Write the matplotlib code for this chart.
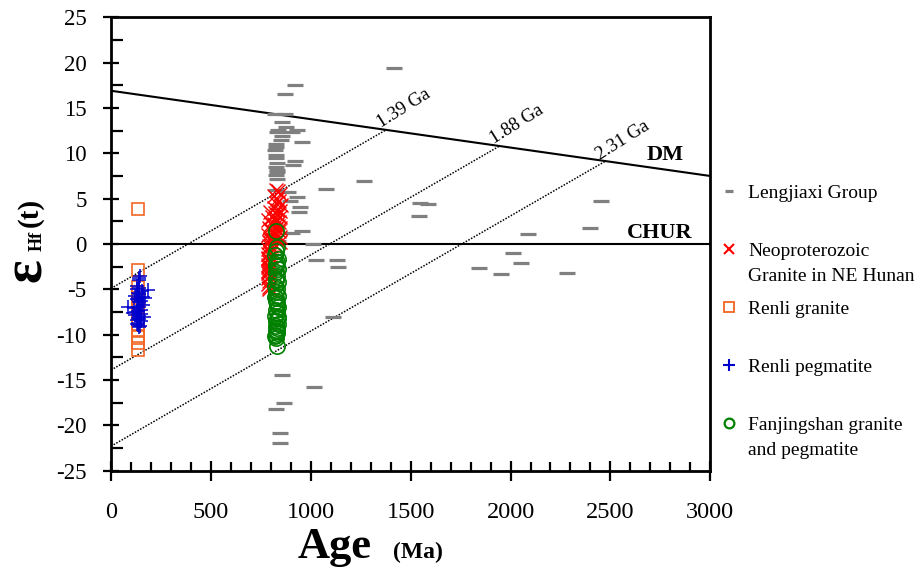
import numpy as np
import matplotlib
matplotlib.use("Agg")
import matplotlib.pyplot as plt
from matplotlib.lines import Line2D

plt.rcParams['font.family'] = 'Liberation Serif'
plt.rcParams['axes.unicode_minus'] = False

# reference lines
dm_age = [0, 3000]
dm_ehf = [16.9, 7.5]
model_intercepts = [-4.9, -13.9, -22.3]     # eHf at 0 Ma for crustal evolution lines
model_slope = 0.0127                        # eHf per Ma
model_labels = ['1.39 Ga', '1.88 Ga', '2.31 Ga']

# Lengjiaxi Group
gray_age = [1417, 921, 871, 821, 871, 855, 875, 838, 930, 829, 904, 855, 850, 955,
            826, 826, 820, 826, 826, 921, 830, 913, 826, 830, 830, 826, 830, 1075,
            826, 886, 896, 930, 946, 940, 955, 905, 1012, 836, 1025, 1129, 1137, 1111,
            855, 1018, 868, 825, 846, 846, 1264, 1547, 1587, 1544, 2452, 2399, 2088,
            2013, 1843, 1953, 2052, 2282]
gray_ehf = [19.4, 17.5, 16.5, 14.3, 14.3, 13.4, 12.9, 12.6, 12.6, 12.3, 12.3, 11.9, 11.5, 11.2,
            11.0, 10.7, 10.4, 9.8, 9.5, 9.2, 8.9, 8.7, 8.5, 8.2, 7.9, 7.6, 7.2, 6.1,
            5.9, 5.7, 4.7, 5.2, 4.1, 3.5, 1.4, 1.2, 0.0, 0.3, -1.8, -1.8, -2.5, -8.1,
            -14.4, -15.8, -17.5, -18.2, -20.8, -22.0, 6.9, 4.5, 4.4, 3.1, 4.7, 1.8, 1.1,
            -1.0, -2.7, -3.3, -2.1, -3.2]

# Neoproterozoic granite in NE Hunan
red_age = [825, 835, 845, 818, 832, 840, 826, 850,
           815, 830, 845, 822, 838, 846, 816, 828, 842, 818, 835, 846, 825, 840, 816,
           832, 845, 820, 836, 844, 816, 828,
           795, 805, 788, 800, 792, 808, 785, 798, 790, 803, 786, 794, 784, 800, 788,
           792, 785, 797, 789, 786, 793, 787, 798, 790, 788, 786, 791, 796, 789, 795,
           787, 784, 792]
red_ehf = [6.0, 5.8, 5.5, 5.3, 5.0, 4.7, 4.5, 4.3,
           4.0, 3.8, 3.6, 3.4, 3.2, 3.0, 2.8, 2.6, 2.4, 2.2, 2.0, 1.8, 1.6, 1.4, 1.2,
           1.0, 0.8, 0.6, 0.4, 0.2, 0.0, -0.2,
           3.5, 3.0, 2.6, 2.2, 1.8, 1.4, 1.0, 0.6, 0.2, -0.2, -0.5, -0.8, -1.1, -1.4, -1.7,
           -2.0, -2.3, -2.6, -2.9, -3.2, -3.5, -3.8, -1.0, -4.1, -4.4, -2.5, -4.7, 0.5,
           -5.0, 1.5, -3.0, -1.5, -0.2]

# Renli granite
orange_age = [137, 137, 135, 133, 136, 134, 137, 133, 136, 135, 137, 137, 137, 137]
orange_ehf = [3.9, -2.9, -4.7, -5.3, -5.9, -6.5, -7.1, -7.7, -8.3, -8.9, -9.5, -10.2, -10.9, -11.7]

# Renli pegmatite
blue_age = [145, 140, 187, 132, 138, 128, 155, 135, 142, 120, 160, 136, 130, 150, 139,
            85, 158, 134, 141, 115, 152, 137, 125, 148, 122, 139, 163, 133, 140, 128,
            150, 136, 131, 145, 138, 135, 170, 110, 140, 137]
blue_ehf = [-3.5, -4.0, -5.1, -4.6, -4.8, -5.0, -5.2, -5.4, -5.5, -5.7, -5.8, -6.0, -6.1, -6.3, -6.4,
            -6.9, -6.7, -6.9, -7.0, -7.1, -7.3, -7.4, -7.5, -7.7, -7.8, -7.9, -8.0, -8.2, -8.3, -8.4,
            -8.5, -8.7, -8.8, -9.0, -9.2, -6.2, -6.0, -7.6, -3.8, -8.9]

# Fanjingshan granite and pegmatite
green_age = [826, 832, 828, 822, 835, 830, 826, 838, 824, 832, 828, 836, 822, 830, 826, 834,
             828, 824, 832, 838, 826, 830, 822, 834, 828, 836, 824, 830, 826, 832, 828, 822,
             834, 830, 826, 828, 820, 832, 826, 830]
green_ehf = [1.4, -0.3, -0.8, -1.2, -1.6, -2.0, -2.4, -2.8, -3.1, -3.5, -3.9, -4.2, -4.6, -5.0,
             -5.3, -5.7, -6.0, -6.3, -6.7, -7.0, -7.3, -7.6, -7.9, -8.2, -8.5, -8.8, -9.0, -9.3,
             -9.5, -9.8, -10.0, -10.2, -8.0, -6.5, -4.0, -2.2, -5.8, -9.6, -10.4, -11.3]

legend_labels = ['Lengjiaxi Group', 'Neoproterozoic', 'Renli granite', 'Renli pegmatite',
                 'Fanjingshan granite']
legend_second = {1: 'Granite in NE Hunan', 4: 'and pegmatite'}

gray = '#808080'
red = '#ff0000'
orange = '#f26522'
blue = '#0000cc'
green = '#008000'

W, H = 917, 568
fig = plt.figure(figsize=(W / 100, H / 100), dpi=100)
ax = fig.add_axes([111 / W, 1 - 470.7 / H, (710.3 - 111) / W, (470.7 - 17.3) / H])

# DM, CHUR, crustal evolution lines
ax.plot(dm_age, dm_ehf, color='black', lw=1.5, zorder=2)
ax.axhline(0, color='black', lw=1.5, zorder=2)
dm_slope = (dm_ehf[1] - dm_ehf[0]) / (dm_age[1] - dm_age[0])
for b, lab in zip(model_intercepts, model_labels):
    xi = (dm_ehf[0] - b) / (model_slope - dm_slope)
    yi = b + model_slope * xi
    ax.plot([0, xi], [b, yi], color='black', lw=1.1, ls=(0, (1, 1)), zorder=2)
    ax.text(xi - 15, yi - 0.2, lab, rotation=32, rotation_mode='anchor',
            ha='left', va='bottom', fontsize=13.5)
ax.text(2774, 9.8, 'DM', fontsize=16, fontweight='bold', ha='center', va='center')
ax.text(2749, 1.2, 'CHUR', fontsize=16, fontweight='bold', ha='center', va='center')

ax.plot(gray_age, gray_ehf, ls='none', marker='_', ms=11.5, mew=2.3, color=gray, zorder=3)
ax.plot(orange_age, orange_ehf, ls='none', marker='s', ms=9.3, mfc='none', mew=1.2,
        color=orange, zorder=3)
ax.plot(blue_age, blue_ehf, ls='none', marker='+', ms=10.5, mew=1.1, color=blue, zorder=4)
ax.plot(red_age, red_ehf, ls='none', marker='x', ms=10, mew=1.0, color=red, zorder=4)
ax.plot(green_age, green_ehf, ls='none', marker='o', ms=11, mfc='none', mew=1.2,
        color=green, zorder=5)

ax.set_xlim(0, 3000)
ax.set_ylim(-25, 25)
ax.set_xticks(np.arange(0, 3001, 500))
ax.set_xticks(np.arange(0, 3001, 100), minor=True)
ax.set_yticks(np.arange(-25, 26, 5))
ax.set_yticks(np.arange(-22.5, 25, 5), minor=True)
ax.tick_params(axis='y', which='major', direction='inout', length=11, width=1.6,
               labelsize=16.5, pad=12)
ax.tick_params(axis='y', which='minor', direction='in', length=8.5, width=1.6)
ax.tick_params(axis='x', which='major', direction='inout', length=15, width=1.6,
               labelsize=17.5, pad=15)
ax.tick_params(axis='x', which='minor', direction='in', length=6.5, width=1.6)
for sp in ax.spines.values():
    sp.set_linewidth(2)

# axis titles
fig.text(27 / W, 1 - 270 / H, 'ε', rotation=90, fontsize=40, fontweight='bold',
         ha='center', va='center')
fig.text(37 / W, 1 - 241 / H, 'Hf', rotation=90, fontsize=13, fontweight='bold',
         ha='center', va='center')
fig.text(30 / W, 1 - 212 / H, '(t)', rotation=90, fontsize=21, fontweight='bold',
         ha='center', va='center')
fig.text(298 / W, 10 / H, 'Age', fontsize=32, fontweight='bold', ha='left', va='baseline')
fig.text(393 / W, 10 / H, '(Ma)', fontsize=17, fontweight='bold', ha='left', va='baseline')

# legend
handles = [
    Line2D([], [], ls='none', marker='_', ms=6, mew=2.3, color=gray),
    Line2D([], [], ls='none', marker='x', ms=6.5, mew=1.5, color=red),
    Line2D([], [], ls='none', marker='s', ms=7, mfc='none', mew=1.3, color=orange),
    Line2D([], [], ls='none', marker='+', ms=9, mew=1.5, color=blue),
    Line2D([], [], ls='none', marker='o', ms=7, mfc='none', mew=1.6, color=green),
]
leg = ax.legend(handles, legend_labels, loc='upper left',
                bbox_to_anchor=(719 / W, 1 - 184 / H), bbox_transform=fig.transFigure,
                frameon=False, fontsize=14, handlelength=1.0, handletextpad=0.5,
                labelspacing=2.08, borderpad=0, borderaxespad=0)
for i, txt in legend_second.items():
    ax.annotate(txt, xy=(0, 0), xycoords=leg.get_texts()[i], xytext=(0, -18),
                textcoords='offset points', ha='left', va='bottom', fontsize=14,
                annotation_clip=False, zorder=10)

fig.savefig('out.png', dpi=100)
